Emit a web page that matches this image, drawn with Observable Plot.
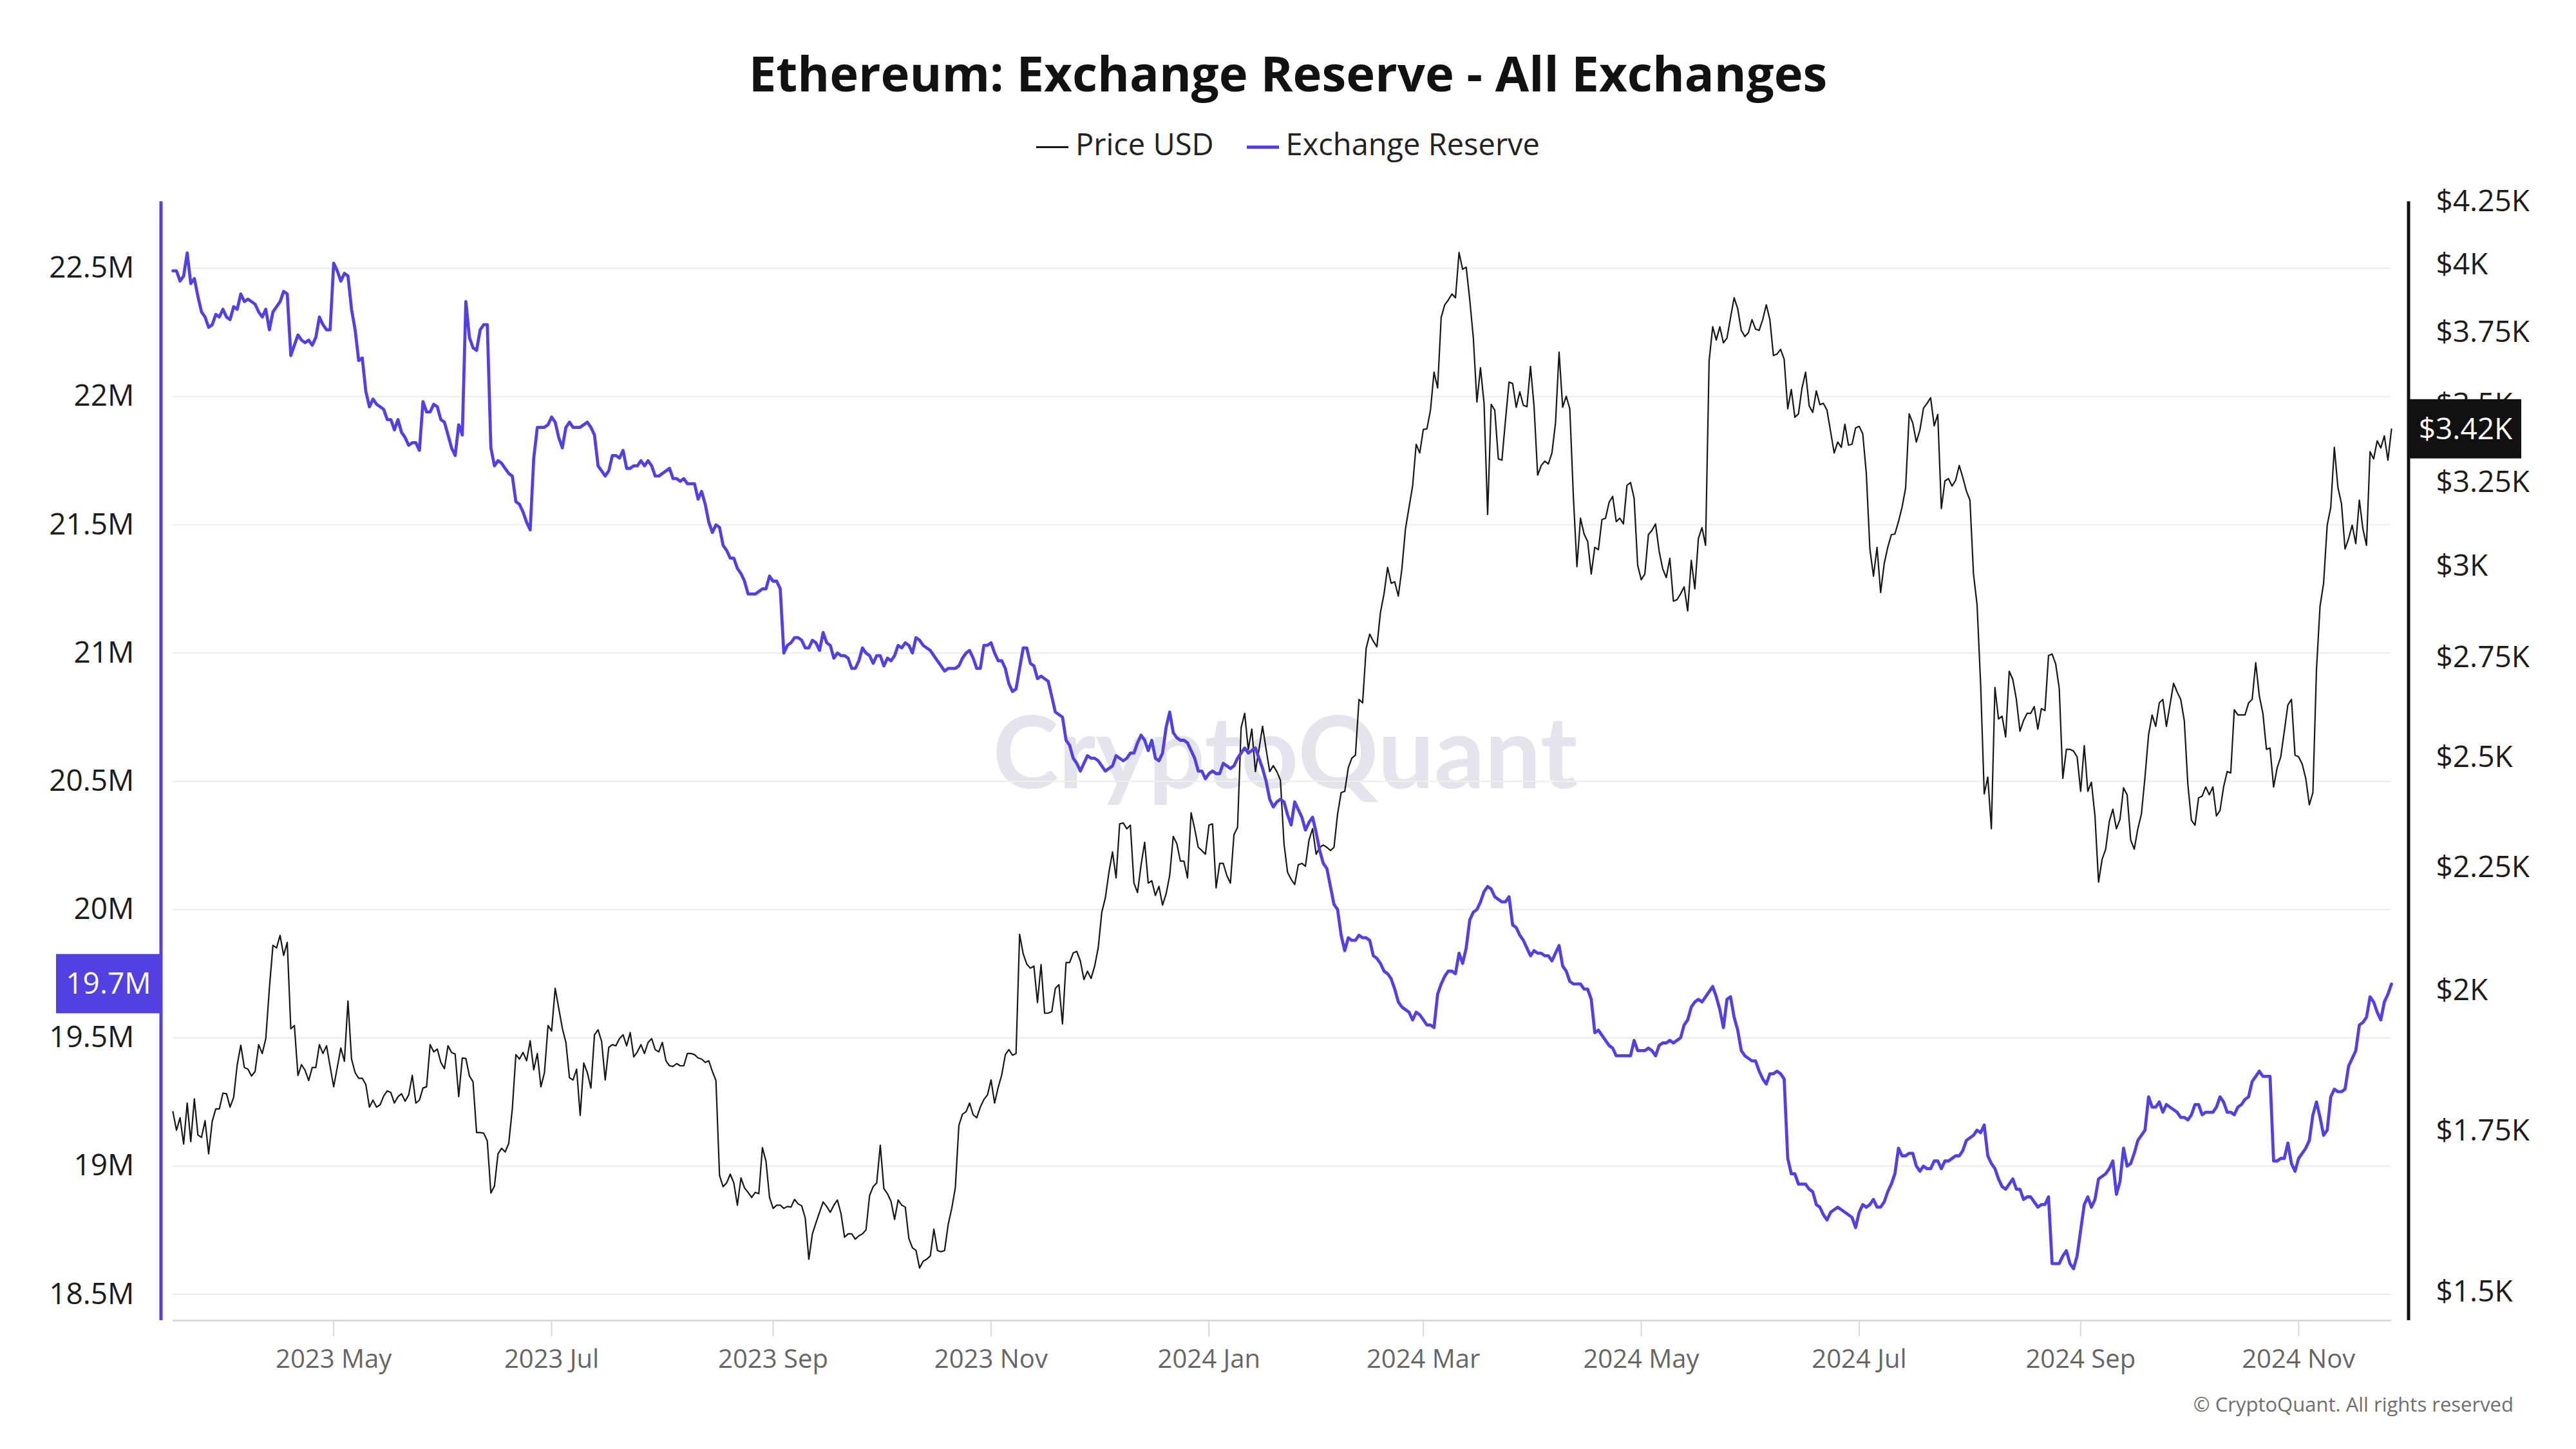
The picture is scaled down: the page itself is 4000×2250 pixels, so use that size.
<!DOCTYPE html>
<html lang="en">
<head>
<meta charset="utf-8">
<title>Ethereum: Exchange Reserve - All Exchanges</title>
<script src="https://cdn.jsdelivr.net/npm/d3@7"></script>
<script src="https://cdn.jsdelivr.net/npm/@observablehq/plot@0.6"></script>
<style>
html,body{margin:0;padding:0;background:#fff;}
body{position:relative;width:4000px;height:2250px;overflow:hidden;font-family:"Open Sans","Noto Sans",sans-serif;}
#title{position:absolute;left:0;top:75px;width:4000px;text-align:center;font-size:76px;font-weight:700;line-height:1;color:#111;}
#legend{position:absolute;left:0;top:200px;width:4000px;display:flex;justify-content:center;align-items:center;font-size:47px;line-height:1;color:#222;}
#legend .item{display:flex;align-items:center;}
#legend .item + .item{margin-left:51px;}
#legend .sw{display:inline-block;width:50px;position:relative;top:5px;margin-right:11px;}
#chart{position:absolute;left:0;top:250px;}
#caption{position:absolute;right:97px;top:2165px;font-size:31px;line-height:1;color:#6e6e6e;}
</style>
</head>
<body>
<div id="title">Ethereum: Exchange Reserve - All Exchanges</div>
<div id="legend"></div>
<div id="chart"></div>
<div id="caption">© CryptoQuant. All rights reserved</div>
<script>
// ---------- data ----------
const seriesNames = ["Price USD", "Exchange Reserve"];
const seriesColors = ["#161616", "#5240e3"];
const firstDay = "2023-03-17"; // daily values from here to 2024-11-27

// Exchange reserve, millions of ETH (one value per day)
const reserveM = [
22.49,22.49,22.45,22.47,22.56,22.44,22.46,22.39,22.33,22.31,
22.27,22.28,22.32,22.31,22.34,22.31,22.30,22.35,22.34,22.40,
22.37,22.38,22.37,22.36,22.33,22.31,22.34,22.26,22.33,22.35,
22.37,22.41,22.40,22.16,22.20,22.24,22.22,22.21,22.22,22.20,
22.23,22.31,22.28,22.26,22.26,22.52,22.49,22.45,22.48,22.47,
22.34,22.26,22.14,22.15,22.02,21.96,21.99,21.97,21.96,21.95,
21.91,21.91,21.87,21.91,21.86,21.84,21.81,21.82,21.82,21.79,
21.98,21.94,21.94,21.97,21.96,21.91,21.90,21.85,21.80,21.77,
21.89,21.85,22.37,22.23,22.19,22.18,22.26,22.28,22.28,21.80,
21.73,21.75,21.74,21.72,21.70,21.69,21.59,21.58,21.55,21.51,
21.48,21.76,21.88,21.88,21.88,21.89,21.92,21.90,21.84,21.80,
21.88,21.90,21.88,21.88,21.88,21.89,21.90,21.88,21.85,21.73,
21.71,21.69,21.71,21.77,21.77,
21.76,21.79,21.72,21.72,21.73,21.73,21.75,21.73,21.75,21.73,
21.69,21.69,21.70,21.71,21.72,21.68,21.68,21.67,21.68,21.66,
21.66,21.66,21.60,21.63,21.58,21.51,21.47,21.50,21.49,21.42,
21.40,21.37,21.37,21.33,21.31,21.28,21.23,21.23,21.23,21.24,
21.25,21.25,21.30,21.28,21.28,21.25,21.00,21.03,21.04,21.06,
21.06,21.05,21.02,21.02,21.05,21.04,21.01,21.08,21.04,21.03,
20.98,21.00,20.99,20.99,20.98,20.94,20.94,20.97,21.02,21.00,
20.99,20.96,20.99,20.99,20.95,20.98,20.97,20.99,21.03,21.02,
21.04,21.03,21.00,21.06,21.05,21.03,21.02,21.01,20.99,20.97,
20.95,20.93,20.94,20.94,20.94,20.95,20.98,21.00,21.01,20.98,
20.94,20.94,21.03,21.03,21.04,21.00,20.97,20.97,20.94,20.88,
20.85,20.86,20.94,21.02,21.02,20.96,20.95,20.90,20.91,20.90,
20.89,20.83,20.77,20.76,20.75,
20.66,20.64,20.59,20.57,20.54,20.57,20.60,20.59,20.59,20.58,
20.56,20.54,20.55,20.56,20.60,20.59,20.58,20.59,20.61,20.61,
20.65,20.68,20.66,20.62,20.66,20.59,20.58,20.61,20.71,20.77,
20.69,20.67,20.66,20.66,20.65,20.62,20.59,20.54,20.54,20.51,
20.53,20.54,20.53,20.53,20.57,20.56,20.55,20.56,20.59,20.61,
20.63,20.61,20.62,20.63,20.59,20.55,20.50,20.43,20.40,20.42,
20.43,20.42,20.37,20.33,20.42,20.39,20.36,20.31,20.34,20.36,
20.30,20.23,20.18,20.16,20.09,20.02,20.00,19.90,19.84,19.89,
19.88,19.88,19.90,19.89,19.89,19.88,19.82,19.81,19.79,19.76,
19.75,19.73,19.69,19.64,19.62,19.61,19.60,19.57,19.60,19.59,
19.57,19.55,19.55,19.54,19.67,19.71,19.74,19.76,19.76,19.75,
19.83,19.79,19.85,19.96,19.99,20.00,20.03,20.07,20.09,20.08,
20.05,20.04,20.03,20.03,
20.05,19.94,19.93,19.90,19.88,19.85,19.82,19.84,19.83,19.83,
19.82,19.82,19.80,19.83,19.86,19.78,19.76,19.72,19.71,19.71,
19.71,19.69,19.69,19.65,19.52,19.53,19.51,19.49,19.47,19.46,
19.43,19.43,19.43,19.43,19.43,19.49,19.45,19.45,19.45,19.46,
19.45,19.43,19.47,19.48,19.48,19.49,19.48,19.49,19.50,19.55,
19.57,19.62,19.64,19.65,19.64,19.66,19.68,19.70,19.66,19.61,
19.54,19.65,19.66,19.58,19.53,19.45,19.43,19.42,19.41,19.41,
19.37,19.34,19.32,19.36,19.36,19.37,19.36,19.34,19.03,18.97,
18.97,18.93,18.93,18.93,18.91,18.90,18.85,18.84,18.81,18.79,
18.82,18.83,18.84,18.83,18.82,18.81,18.80,18.76,18.82,18.85,
18.84,18.85,18.87,18.84,18.84,18.86,18.90,18.93,18.97,19.07,
19.04,19.04,19.05,19.05,19.00,18.98,19.00,18.99,18.99,19.02,
19.02,18.99,19.02,19.02,
19.03,19.04,19.04,19.06,19.10,19.11,19.12,19.14,19.13,19.16,
19.04,19.01,18.99,18.95,18.92,18.91,18.93,18.95,18.91,18.91,
18.87,18.88,18.88,18.86,18.84,18.85,18.85,18.88,18.62,18.62,
18.62,18.65,18.67,18.62,18.60,18.65,18.75,18.85,18.88,18.84,
18.87,18.95,18.96,18.97,18.99,19.02,18.89,18.94,19.07,19.00,
19.01,19.05,19.10,19.12,19.14,19.27,19.23,19.23,19.25,19.21,
19.24,19.23,19.22,19.21,19.19,19.19,19.18,19.20,19.24,19.24,
19.20,19.21,19.21,19.21,19.23,19.27,19.25,19.21,19.21,19.20,
19.23,19.24,19.26,19.27,19.33,19.35,19.37,19.35,19.35,19.35,
19.02,19.02,19.03,19.03,19.09,19.01,18.98,19.03,19.05,19.07,
19.10,19.20,19.25,19.19,19.12,19.14,19.27,19.30,19.29,19.29,
19.30,19.39,19.42,19.45,19.55,19.56,19.58,19.66,19.64,19.60,
19.57,19.64,19.67,19.71
];

// ETH price, USD (one value per day)
const priceUSD = [
1782,1751,1772,1728,1797,1732,1804,1743,1739,1767,
1712,1766,1787,1787,1814,1813,1790,1807,1864,1899,
1859,1856,1844,1852,1900,1884,1911,2005,2089,2084,
2109,2069,2095,1929,1935,1845,1864,1854,1836,1859,
1859,1900,1884,1898,1861,1825,1859,1894,1870,1981,
1874,1850,1840,1840,1829,1790,1802,1790,1794,1809,
1818,1815,1797,1808,1813,1800,1811,1845,1797,1802,
1823,1825,1900,1887,1892,1868,1857,1898,1886,1883,
1808,1876,1875,1844,1834,1747,1747,1746,1733,1649,
1660,1712,1721,1715,1729,1787,1882,1874,1886,1871,
1907,1855,1884,1825,1850,1935,1925,2005,1967,1930,
1904,1841,1837,1856,1776,1867,1850,1823,1918,1927,
1906,1837,1895,1900,1898,
1911,1918,1898,1922,1878,1887,1900,1884,1904,1911,
1891,1887,1904,1871,1862,1861,1866,1862,1862,1884,
1884,1882,1876,1874,1868,1871,1852,1836,1677,1659,
1665,1679,1665,1630,1673,1657,1650,1642,1650,1648,
1722,1700,1642,1625,1630,1630,1625,1628,1627,1639,
1632,1629,1610,1548,1586,1603,1619,1635,1628,1619,
1630,1638,1617,1581,1586,1586,1578,1583,1586,1592,
1645,1659,1665,1726,1656,1648,1636,1608,1638,1630,
1627,1579,1565,1561,1535,1545,1548,1553,1593,1561,
1559,1561,1600,1625,1657,1759,1778,1782,1797,1777,
1772,1790,1803,1811,1837,1797,1824,1846,1882,1891,
1881,1884,2111,2072,2052,2044,2048,1978,2051,1958,
1958,1961,2005,2012,1938,
2055,2055,2074,2077,2058,2022,2038,2024,2048,2084,
2156,2186,2240,2284,2228,2346,2348,2335,2343,2217,
2197,2256,2305,2217,2222,2191,2210,2171,2194,2233,
2318,2302,2264,2264,2228,2371,2335,2294,2287,2279,
2343,2346,2207,2259,2259,2233,2217,2322,2338,2572,
2607,2519,2568,2466,2519,2575,2519,2466,2480,2466,
2446,2302,2240,2225,2214,2256,2259,2253,2310,2335,
2279,2294,2299,2294,2287,2294,2368,2417,2420,2475,
2498,2505,2642,2633,2774,2812,2793,2778,2871,2922,
2997,2952,2956,2916,2993,3109,3174,3239,3371,3343,
3419,3421,3482,3611,3557,3805,3851,3869,3891,3877,
4048,3984,3992,3869,3731,3510,3626,3505,3152,3502,
3482,3324,3320,3450,
3577,3572,3492,3544,3499,3494,3631,3494,3273,3303,
3317,3308,3343,3440,3681,3492,3529,3487,3207,2999,
3141,3094,3072,2978,3055,3048,3137,3141,3189,3207,
3131,3141,3124,3241,3250,3202,3003,2962,2978,3092,
3105,3124,3044,2993,2968,3023,2902,2906,2922,2942,
2875,3017,2936,3081,3113,3061,3651,3771,3724,3771,
3714,3731,3805,3877,3837,3758,3736,3750,3797,3763,
3758,3797,3851,3797,3669,3674,3691,3656,3487,3552,
3459,3470,3557,3611,3497,3475,3547,3501,3505,3482,
3412,3343,3378,3361,3436,3368,3371,3424,3429,3405,
3278,3050,2972,3055,2926,3007,3055,3092,3094,3131,
3174,3233,3470,3440,3378,3417,3489,3505,3524,3431,
3468,3170,3255,3262,
3239,3257,3303,3266,3224,3196,2978,2892,2680,2414,
2453,2335,2672,2593,2600,2549,2714,2693,2642,2563,
2589,2607,2607,2624,2568,2619,2614,2755,2759,2733,
2670,2450,2519,2519,2515,2501,2420,2528,2420,2441,
2364,2219,2268,2290,2351,2379,2335,2356,2428,2412,
2310,2290,2335,2368,2453,2554,2603,2575,2633,2642,
2575,2628,2683,2661,2642,2589,2436,2354,2343,2405,
2409,2430,2412,2430,2364,2376,2430,2466,2463,2616,
2603,2603,2603,2633,2642,2736,2651,2607,2519,2522,
2430,2475,2501,2563,2628,2642,2505,2501,2484,2450,
2389,2417,2718,2888,2952,3120,3174,3361,3235,3185,
3050,3081,3120,3066,3196,3109,3061,3347,3324,3382,
3359,3398,3320,3420
];

// axis ticks
const reserveTicks = [18.5, 19, 19.5, 20, 20.5, 21, 21.5, 22, 22.5];
const priceTicks = [1500, 1750, 2000, 2250, 2500, 2750, 3000, 3250, 3500, 3750, 4000, 4250];
const monthTicks = ["2023-05-01","2023-07-01","2023-09-01","2023-11-01","2024-01-01","2024-03-01","2024-05-01","2024-07-01","2024-09-01","2024-11-01"];
const reserveRange = [18.398, 22.76];
const priceRange = [1460, 4250];

// ---------- build ----------
const PURPLE = seriesColors[1], INK = seriesColors[0];
const start = new Date(firstDay + "T00:00:00Z");
const n = Math.min(reserveM.length, priceUSD.length);
const rows = d3.range(n).map(i => ({date: d3.utcDay.offset(start, i), reserve: reserveM[i], price: priceUSD[i]}));
const end = rows[n - 1].date;
const priceToY = d3.scaleLog().domain(priceRange).range(reserveRange);
const last = rows[n - 1];

// legend
const legend = document.getElementById("legend");
seriesNames.forEach((name, k) => {
  const item = document.createElement("span");
  item.className = "item";
  const sw = document.createElement("span");
  sw.className = "sw";
  sw.style.height = k === 0 ? "3px" : "5px";
  sw.style.background = seriesColors[k];
  const label = document.createElement("span");
  label.textContent = name;
  item.appendChild(sw); item.appendChild(label);
  legend.appendChild(item);
});

const frameDecor = (index, scales, values, dims) => {
  const g = d3.create("svg:g");
  const ml = dims.marginLeft, mr = dims.marginRight, mt = dims.marginTop, mb = dims.marginBottom, w = dims.width, h = dims.height;
  g.append("line").attr("x1", ml).attr("x2", ml).attr("y1", mt).attr("y2", h - mb)
    .attr("stroke", PURPLE).attr("stroke-width", 5);
  g.append("line").attr("x1", w - mr).attr("x2", w - mr).attr("y1", mt).attr("y2", h - mb)
    .attr("stroke", "#111").attr("stroke-width", 5);
  // last-value badges
  const yr = scales.y(last.reserve);
  g.append("rect").attr("x", 87).attr("width", ml - 87).attr("y", yr - 46).attr("height", 92).attr("fill", PURPLE);
  g.append("text").attr("x", (87 + ml) / 2).attr("y", yr).attr("dy", "0.35em").attr("text-anchor", "middle")
    .attr("fill", "#fff").attr("font-size", 46).text(last.reserve.toFixed(1) + "M");
  const yp = scales.y(priceToY(last.price));
  g.append("rect").attr("x", w - mr + 2).attr("width", 173).attr("y", yp - 46).attr("height", 92).attr("fill", "#111");
  g.append("text").attr("x", w - mr + 2 + 86.5).attr("y", yp).attr("dy", "0.35em").attr("text-anchor", "middle")
    .attr("fill", "#fff").attr("font-size", 46).text("$" + (last.price / 1000).toFixed(2) + "K");
  return g.node();
};

const chart = Plot.plot({
  width: 4000,
  height: 1900,
  marginTop: 62.5,
  marginBottom: 100,
  marginLeft: 250,
  marginRight: 260,
  style: {fontFamily: "'Open Sans', 'Noto Sans', sans-serif", fontSize: "46px", background: "transparent", overflow: "visible"},
  x: {type: "utc", domain: [start, end], insetLeft: 18, insetRight: 27},
  y: {domain: reserveRange},
  marks: [
    Plot.text(["CryptoQuant"], {frameAnchor: "middle", text: d => d, fontSize: 155, fontWeight: 700,
      fontFamily: "Lato, 'Open Sans', sans-serif", fill: "#e4e4ec", dy: -7}),
    Plot.ruleY(reserveTicks, {x1: () => start, x2: () => end, stroke: "#efefef", strokeWidth: 2.5}),
    Plot.ruleY([reserveRange[0]], {x1: () => start, x2: () => end, stroke: "#d9d9e1", strokeWidth: 3}),
    Plot.line(rows, {x: "date", y: d => priceToY(d.price), stroke: INK, strokeWidth: 2.2}),
    Plot.line(rows, {x: "date", y: "reserve", stroke: PURPLE, strokeWidth: 4.8}),
    Plot.axisY({anchor: "left", ticks: reserveTicks, tickSize: 0, tickPadding: 42, label: null,
      tickFormat: d => d + "M", fontSize: 46, fill: "#1c1c1c"}),
    Plot.axisY({anchor: "right", ticks: priceTicks.map(p => priceToY(p)), tickSize: 0, tickPadding: 42, label: null,
      tickFormat: v => "$" + Math.round(priceToY.invert(v)) / 1000 + "K", fontSize: 46, fill: "#1c1c1c"}),
    Plot.axisX({ticks: monthTicks.map(s => new Date(s + "T00:00:00Z")), tickFormat: d3.utcFormat("%Y %b"),
      tickSize: 25, tickPadding: 20, label: null, fontSize: 40, fill: "#666", stroke: "#d6d6de", strokeWidth: 2}),
    frameDecor
  ]
});
document.getElementById("chart").appendChild(chart);
</script>
</body>
</html>
